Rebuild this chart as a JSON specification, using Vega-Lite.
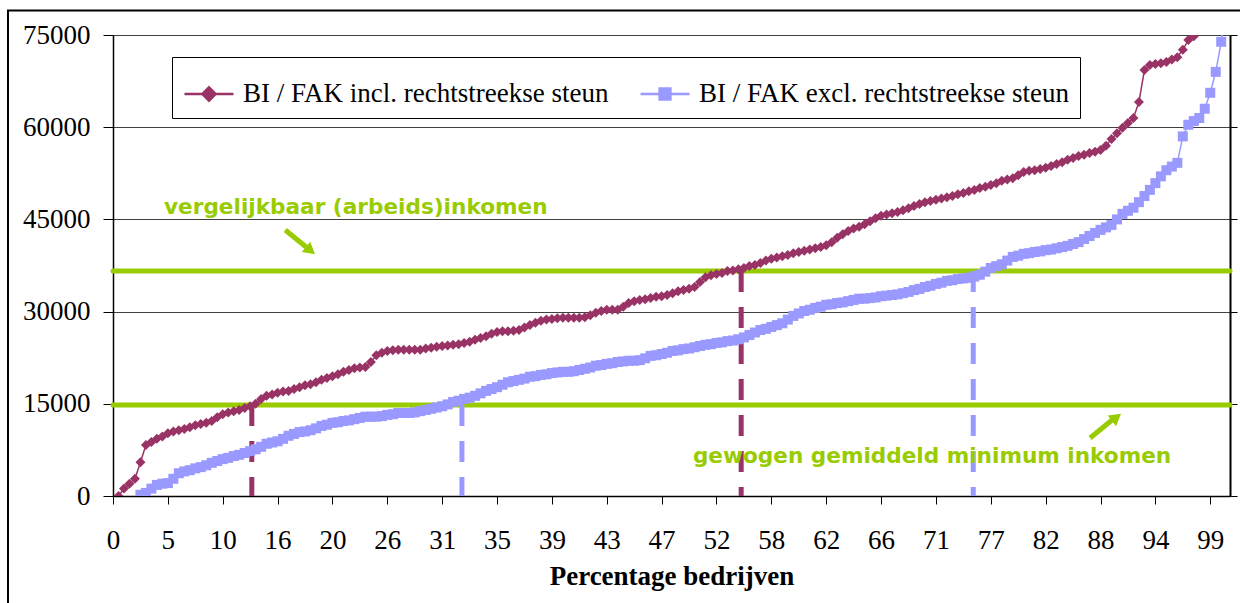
{
  "$schema": "https://vega.github.io/schema/vega-lite/v6.json",
  "width": 1117,
  "height": 461,
  "autosize": {"type": "none"},
  "padding": {"left": 113, "top": 35, "right": 10, "bottom": 107},
  "background": "white",
  "config": {
    "view": {"stroke": null},
    "axis": {"labelFont": "Liberation Serif", "labelFontSize": 27, "labelColor": "black", "tickColor": "black", "domainColor": "black", "titleColor": "black", "titleFont": "Liberation Serif", "labelFlush": false, "labelOverlap": false, "labelBound": false}
  },
  "datasets": {
    "reeksen": [
      {"reeks":"incl","i":1,"v":0},{"reeks":"incl","i":2,"v":1200},{"reeks":"incl","i":4,"v":2800},{"reeks":"incl","i":5,"v":5500},{"reeks":"incl","i":6,"v":8300},{"reeks":"incl","i":8,"v":9300},{"reeks":"incl","i":10,"v":10200},{"reeks":"incl","i":12,"v":10700},{"reeks":"incl","i":14,"v":11200},{"reeks":"incl","i":16,"v":11700},{"reeks":"incl","i":18,"v":12200},{"reeks":"incl","i":20,"v":13300},{"reeks":"incl","i":22,"v":13800},{"reeks":"incl","i":24,"v":14300},{"reeks":"incl","i":26,"v":15000},{"reeks":"incl","i":28,"v":16300},{"reeks":"incl","i":30,"v":16800},{"reeks":"incl","i":32,"v":17100},{"reeks":"incl","i":34,"v":17700},{"reeks":"incl","i":36,"v":18200},{"reeks":"incl","i":38,"v":18900},{"reeks":"incl","i":40,"v":19500},{"reeks":"incl","i":42,"v":20200},{"reeks":"incl","i":44,"v":20800},{"reeks":"incl","i":46,"v":21000},{"reeks":"incl","i":47,"v":21800},{"reeks":"incl","i":48,"v":22900},{"reeks":"incl","i":50,"v":23600},{"reeks":"incl","i":52,"v":23800},{"reeks":"incl","i":54,"v":23800},{"reeks":"incl","i":56,"v":23800},{"reeks":"incl","i":58,"v":24100},{"reeks":"incl","i":60,"v":24400},{"reeks":"incl","i":62,"v":24600},{"reeks":"incl","i":64,"v":24900},{"reeks":"incl","i":66,"v":25400},{"reeks":"incl","i":68,"v":26000},{"reeks":"incl","i":70,"v":26700},{"reeks":"incl","i":72,"v":26800},{"reeks":"incl","i":74,"v":27000},{"reeks":"incl","i":76,"v":27800},{"reeks":"incl","i":78,"v":28500},{"reeks":"incl","i":80,"v":28800},{"reeks":"incl","i":82,"v":29000},{"reeks":"incl","i":84,"v":29000},{"reeks":"incl","i":86,"v":29100},{"reeks":"incl","i":88,"v":29800},{"reeks":"incl","i":90,"v":30300},{"reeks":"incl","i":92,"v":30300},{"reeks":"incl","i":94,"v":31400},{"reeks":"incl","i":96,"v":31900},{"reeks":"incl","i":98,"v":32200},{"reeks":"incl","i":100,"v":32500},{"reeks":"incl","i":102,"v":33000},{"reeks":"incl","i":104,"v":33500},{"reeks":"incl","i":106,"v":34000},{"reeks":"incl","i":108,"v":35600},{"reeks":"incl","i":110,"v":36100},{"reeks":"incl","i":112,"v":36600},{"reeks":"incl","i":114,"v":36900},{"reeks":"incl","i":116,"v":37400},{"reeks":"incl","i":118,"v":37900},{"reeks":"incl","i":120,"v":38600},{"reeks":"incl","i":122,"v":39000},{"reeks":"incl","i":124,"v":39500},{"reeks":"incl","i":126,"v":39900},{"reeks":"incl","i":128,"v":40300},{"reeks":"incl","i":130,"v":40800},{"reeks":"incl","i":132,"v":42000},{"reeks":"incl","i":134,"v":43100},{"reeks":"incl","i":136,"v":43800},{"reeks":"incl","i":138,"v":44700},{"reeks":"incl","i":140,"v":45600},{"reeks":"incl","i":142,"v":46000},{"reeks":"incl","i":144,"v":46500},{"reeks":"incl","i":146,"v":47200},{"reeks":"incl","i":148,"v":47800},{"reeks":"incl","i":150,"v":48200},{"reeks":"incl","i":152,"v":48600},{"reeks":"incl","i":154,"v":49100},{"reeks":"incl","i":156,"v":49600},{"reeks":"incl","i":158,"v":50100},{"reeks":"incl","i":160,"v":50600},{"reeks":"incl","i":162,"v":51300},{"reeks":"incl","i":164,"v":51700},{"reeks":"incl","i":166,"v":52700},{"reeks":"incl","i":168,"v":53000},{"reeks":"incl","i":170,"v":53400},{"reeks":"incl","i":172,"v":54000},{"reeks":"incl","i":174,"v":54700},{"reeks":"incl","i":176,"v":55300},{"reeks":"incl","i":178,"v":55800},{"reeks":"incl","i":180,"v":56300},{"reeks":"incl","i":182,"v":58100},{"reeks":"incl","i":184,"v":59900},{"reeks":"incl","i":186,"v":61500},{"reeks":"incl","i":187,"v":64100},{"reeks":"incl","i":188,"v":69300},{"reeks":"incl","i":189,"v":70100},{"reeks":"incl","i":190,"v":70300},{"reeks":"incl","i":192,"v":70600},{"reeks":"incl","i":194,"v":71400},{"reeks":"incl","i":195,"v":72600},{"reeks":"incl","i":196,"v":74200},{"reeks":"incl","i":197,"v":74800},{"reeks":"incl","i":198,"v":75800},{"reeks":"incl","i":200,"v":79000},{"reeks":"incl","i":202,"v":85000},
      {"reeks":"incl","i":3,"v":2000},{"reeks":"incl","i":7,"v":8800},{"reeks":"incl","i":9,"v":9700},{"reeks":"incl","i":11,"v":10500},{"reeks":"incl","i":13,"v":10900},{"reeks":"incl","i":15,"v":11500},{"reeks":"incl","i":17,"v":11900},{"reeks":"incl","i":19,"v":12800},{"reeks":"incl","i":21,"v":13600},{"reeks":"incl","i":23,"v":14000},{"reeks":"incl","i":25,"v":14600},{"reeks":"incl","i":27,"v":15800},{"reeks":"incl","i":29,"v":16500},{"reeks":"incl","i":31,"v":17000},{"reeks":"incl","i":33,"v":17400},{"reeks":"incl","i":35,"v":18000},{"reeks":"incl","i":37,"v":18500},{"reeks":"incl","i":39,"v":19200},{"reeks":"incl","i":41,"v":19800},{"reeks":"incl","i":43,"v":20500},{"reeks":"incl","i":45,"v":20900},{"reeks":"incl","i":49,"v":23300},{"reeks":"incl","i":51,"v":23700},{"reeks":"incl","i":53,"v":23800},{"reeks":"incl","i":55,"v":23800},{"reeks":"incl","i":57,"v":24000},{"reeks":"incl","i":59,"v":24300},{"reeks":"incl","i":61,"v":24500},{"reeks":"incl","i":63,"v":24700},{"reeks":"incl","i":65,"v":25100},{"reeks":"incl","i":67,"v":25700},{"reeks":"incl","i":69,"v":26400},{"reeks":"incl","i":71,"v":26800},{"reeks":"incl","i":73,"v":26900},{"reeks":"incl","i":75,"v":27400},{"reeks":"incl","i":77,"v":28200},{"reeks":"incl","i":79,"v":28700},{"reeks":"incl","i":81,"v":28900},{"reeks":"incl","i":83,"v":29000},{"reeks":"incl","i":85,"v":29000},{"reeks":"incl","i":87,"v":29400},{"reeks":"incl","i":89,"v":30100},{"reeks":"incl","i":91,"v":30300},{"reeks":"incl","i":93,"v":30800},{"reeks":"incl","i":95,"v":31700},{"reeks":"incl","i":97,"v":32000},{"reeks":"incl","i":99,"v":32400},{"reeks":"incl","i":101,"v":32700},{"reeks":"incl","i":103,"v":33300},{"reeks":"incl","i":105,"v":33700},{"reeks":"incl","i":107,"v":34800},{"reeks":"incl","i":109,"v":35900},{"reeks":"incl","i":111,"v":36300},{"reeks":"incl","i":113,"v":36700},{"reeks":"incl","i":115,"v":37100},{"reeks":"incl","i":117,"v":37600},{"reeks":"incl","i":119,"v":38300},{"reeks":"incl","i":121,"v":38800},{"reeks":"incl","i":123,"v":39200},{"reeks":"incl","i":125,"v":39700},{"reeks":"incl","i":127,"v":40100},{"reeks":"incl","i":129,"v":40500},{"reeks":"incl","i":131,"v":41300},{"reeks":"incl","i":133,"v":42600},{"reeks":"incl","i":135,"v":43500},{"reeks":"incl","i":137,"v":44200},{"reeks":"incl","i":139,"v":45200},{"reeks":"incl","i":141,"v":45800},{"reeks":"incl","i":143,"v":46200},{"reeks":"incl","i":145,"v":46800},{"reeks":"incl","i":147,"v":47500},{"reeks":"incl","i":149,"v":48000},{"reeks":"incl","i":151,"v":48400},{"reeks":"incl","i":153,"v":48800},{"reeks":"incl","i":155,"v":49300},{"reeks":"incl","i":157,"v":49800},{"reeks":"incl","i":159,"v":50300},{"reeks":"incl","i":161,"v":50900},{"reeks":"incl","i":163,"v":51500},{"reeks":"incl","i":165,"v":52200},{"reeks":"incl","i":167,"v":52900},{"reeks":"incl","i":169,"v":53200},{"reeks":"incl","i":171,"v":53700},{"reeks":"incl","i":173,"v":54300},{"reeks":"incl","i":175,"v":55000},{"reeks":"incl","i":177,"v":55500},{"reeks":"incl","i":179,"v":56000},{"reeks":"incl","i":181,"v":57000},{"reeks":"incl","i":183,"v":59000},{"reeks":"incl","i":185,"v":60700},{"reeks":"incl","i":191,"v":70400},{"reeks":"incl","i":193,"v":71000},{"reeks":"incl","i":199,"v":77000},{"reeks":"incl","i":201,"v":82000},
      {"reeks":"excl","i":5,"v":200},{"reeks":"excl","i":6,"v":500},{"reeks":"excl","i":8,"v":1800},{"reeks":"excl","i":10,"v":2100},{"reeks":"excl","i":12,"v":3700},{"reeks":"excl","i":14,"v":4200},{"reeks":"excl","i":16,"v":4700},{"reeks":"excl","i":18,"v":5400},{"reeks":"excl","i":20,"v":6000},{"reeks":"excl","i":22,"v":6500},{"reeks":"excl","i":24,"v":7000},{"reeks":"excl","i":26,"v":7600},{"reeks":"excl","i":28,"v":8500},{"reeks":"excl","i":30,"v":8900},{"reeks":"excl","i":32,"v":9800},{"reeks":"excl","i":34,"v":10400},{"reeks":"excl","i":36,"v":10700},{"reeks":"excl","i":38,"v":11400},{"reeks":"excl","i":40,"v":11900},{"reeks":"excl","i":42,"v":12200},{"reeks":"excl","i":44,"v":12500},{"reeks":"excl","i":46,"v":12900},{"reeks":"excl","i":48,"v":12900},{"reeks":"excl","i":50,"v":13200},{"reeks":"excl","i":52,"v":13500},{"reeks":"excl","i":54,"v":13500},{"reeks":"excl","i":56,"v":13800},{"reeks":"excl","i":58,"v":14200},{"reeks":"excl","i":60,"v":14600},{"reeks":"excl","i":62,"v":15300},{"reeks":"excl","i":64,"v":15800},{"reeks":"excl","i":66,"v":16300},{"reeks":"excl","i":68,"v":17100},{"reeks":"excl","i":70,"v":17700},{"reeks":"excl","i":72,"v":18500},{"reeks":"excl","i":74,"v":18900},{"reeks":"excl","i":76,"v":19400},{"reeks":"excl","i":78,"v":19700},{"reeks":"excl","i":80,"v":20000},{"reeks":"excl","i":82,"v":20200},{"reeks":"excl","i":84,"v":20300},{"reeks":"excl","i":86,"v":20700},{"reeks":"excl","i":88,"v":21200},{"reeks":"excl","i":90,"v":21500},{"reeks":"excl","i":92,"v":21800},{"reeks":"excl","i":94,"v":22000},{"reeks":"excl","i":96,"v":22100},{"reeks":"excl","i":98,"v":22800},{"reeks":"excl","i":100,"v":23100},{"reeks":"excl","i":102,"v":23600},{"reeks":"excl","i":104,"v":23900},{"reeks":"excl","i":106,"v":24200},{"reeks":"excl","i":108,"v":24600},{"reeks":"excl","i":110,"v":24900},{"reeks":"excl","i":112,"v":25200},{"reeks":"excl","i":114,"v":25500},{"reeks":"excl","i":116,"v":26200},{"reeks":"excl","i":118,"v":27000},{"reeks":"excl","i":120,"v":27500},{"reeks":"excl","i":122,"v":28100},{"reeks":"excl","i":124,"v":29300},{"reeks":"excl","i":126,"v":30100},{"reeks":"excl","i":128,"v":30600},{"reeks":"excl","i":130,"v":31100},{"reeks":"excl","i":132,"v":31400},{"reeks":"excl","i":134,"v":31700},{"reeks":"excl","i":136,"v":32100},{"reeks":"excl","i":138,"v":32200},{"reeks":"excl","i":140,"v":32500},{"reeks":"excl","i":142,"v":32700},{"reeks":"excl","i":144,"v":33000},{"reeks":"excl","i":146,"v":33500},{"reeks":"excl","i":148,"v":34000},{"reeks":"excl","i":150,"v":34500},{"reeks":"excl","i":152,"v":35000},{"reeks":"excl","i":154,"v":35300},{"reeks":"excl","i":156,"v":35500},{"reeks":"excl","i":158,"v":36000},{"reeks":"excl","i":160,"v":37100},{"reeks":"excl","i":162,"v":37700},{"reeks":"excl","i":164,"v":38900},{"reeks":"excl","i":166,"v":39400},{"reeks":"excl","i":168,"v":39700},{"reeks":"excl","i":170,"v":40000},{"reeks":"excl","i":172,"v":40300},{"reeks":"excl","i":174,"v":40700},{"reeks":"excl","i":176,"v":41300},{"reeks":"excl","i":178,"v":42300},{"reeks":"excl","i":180,"v":43300},{"reeks":"excl","i":182,"v":44100},{"reeks":"excl","i":184,"v":45900},{"reeks":"excl","i":186,"v":46900},{"reeks":"excl","i":188,"v":48800},{"reeks":"excl","i":190,"v":50900},{"reeks":"excl","i":192,"v":53000},{"reeks":"excl","i":194,"v":54200},{"reeks":"excl","i":196,"v":60400},{"reeks":"excl","i":198,"v":61500},{"reeks":"excl","i":200,"v":65600},{"reeks":"excl","i":202,"v":73900},{"reeks":"excl","i":203.5,"v":84000},
      {"reeks":"excl","i":7,"v":1200},{"reeks":"excl","i":9,"v":2000},{"reeks":"excl","i":11,"v":2800},{"reeks":"excl","i":13,"v":4000},{"reeks":"excl","i":15,"v":4500},{"reeks":"excl","i":17,"v":5000},{"reeks":"excl","i":19,"v":5700},{"reeks":"excl","i":21,"v":6200},{"reeks":"excl","i":23,"v":6700},{"reeks":"excl","i":25,"v":7300},{"reeks":"excl","i":27,"v":8000},{"reeks":"excl","i":29,"v":8700},{"reeks":"excl","i":31,"v":9300},{"reeks":"excl","i":33,"v":10100},{"reeks":"excl","i":35,"v":10500},{"reeks":"excl","i":37,"v":11000},{"reeks":"excl","i":39,"v":11600},{"reeks":"excl","i":41,"v":12000},{"reeks":"excl","i":43,"v":12300},{"reeks":"excl","i":45,"v":12700},{"reeks":"excl","i":47,"v":12900},{"reeks":"excl","i":49,"v":13000},{"reeks":"excl","i":51,"v":13300},{"reeks":"excl","i":53,"v":13500},{"reeks":"excl","i":55,"v":13600},{"reeks":"excl","i":57,"v":14000},{"reeks":"excl","i":59,"v":14400},{"reeks":"excl","i":61,"v":14900},{"reeks":"excl","i":63,"v":15500},{"reeks":"excl","i":65,"v":16000},{"reeks":"excl","i":67,"v":16700},{"reeks":"excl","i":69,"v":17400},{"reeks":"excl","i":71,"v":18100},{"reeks":"excl","i":73,"v":18700},{"reeks":"excl","i":75,"v":19100},{"reeks":"excl","i":77,"v":19500},{"reeks":"excl","i":79,"v":19800},{"reeks":"excl","i":81,"v":20100},{"reeks":"excl","i":83,"v":20200},{"reeks":"excl","i":85,"v":20500},{"reeks":"excl","i":87,"v":20900},{"reeks":"excl","i":89,"v":21300},{"reeks":"excl","i":91,"v":21600},{"reeks":"excl","i":93,"v":21900},{"reeks":"excl","i":95,"v":22000},{"reeks":"excl","i":97,"v":22400},{"reeks":"excl","i":99,"v":22900},{"reeks":"excl","i":101,"v":23300},{"reeks":"excl","i":103,"v":23700},{"reeks":"excl","i":105,"v":24000},{"reeks":"excl","i":107,"v":24400},{"reeks":"excl","i":109,"v":24700},{"reeks":"excl","i":111,"v":25000},{"reeks":"excl","i":113,"v":25300},{"reeks":"excl","i":115,"v":25800},{"reeks":"excl","i":117,"v":26600},{"reeks":"excl","i":119,"v":27200},{"reeks":"excl","i":121,"v":27800},{"reeks":"excl","i":123,"v":28700},{"reeks":"excl","i":125,"v":29700},{"reeks":"excl","i":127,"v":30300},{"reeks":"excl","i":129,"v":30800},{"reeks":"excl","i":131,"v":31200},{"reeks":"excl","i":133,"v":31500},{"reeks":"excl","i":135,"v":31900},{"reeks":"excl","i":137,"v":32100},{"reeks":"excl","i":139,"v":32300},{"reeks":"excl","i":141,"v":32600},{"reeks":"excl","i":143,"v":32800},{"reeks":"excl","i":145,"v":33200},{"reeks":"excl","i":147,"v":33700},{"reeks":"excl","i":149,"v":34200},{"reeks":"excl","i":151,"v":34700},{"reeks":"excl","i":153,"v":35100},{"reeks":"excl","i":155,"v":35400},{"reeks":"excl","i":157,"v":35700},{"reeks":"excl","i":159,"v":36500},{"reeks":"excl","i":161,"v":37400},{"reeks":"excl","i":163,"v":38300},{"reeks":"excl","i":165,"v":39100},{"reeks":"excl","i":167,"v":39500},{"reeks":"excl","i":169,"v":39800},{"reeks":"excl","i":171,"v":40100},{"reeks":"excl","i":173,"v":40500},{"reeks":"excl","i":175,"v":41000},{"reeks":"excl","i":177,"v":41800},{"reeks":"excl","i":179,"v":42800},{"reeks":"excl","i":181,"v":43700},{"reeks":"excl","i":183,"v":45000},{"reeks":"excl","i":185,"v":46400},{"reeks":"excl","i":187,"v":47800},{"reeks":"excl","i":189,"v":49800},{"reeks":"excl","i":191,"v":52000},{"reeks":"excl","i":193,"v":53600},{"reeks":"excl","i":195,"v":58500},{"reeks":"excl","i":197,"v":61000},{"reeks":"excl","i":199,"v":63000},{"reeks":"excl","i":201,"v":69000}
    ]
  },
  "resolve": {"axis": {"x": "independent", "y": "independent"}},
  "layer": [
    {
      "data": {"values": [{}]},
      "mark": {"type": "rect", "fillOpacity": 0, "stroke": "black", "strokeWidth": 2, "clip": false},
      "encoding": {
        "x": {"datum": -19.14, "type": "quantitative", "scale": {"domain": [0, 203.6], "nice": false, "zero": false}, "axis": null},
        "x2": {"datum": 215},
        "y": {"datum": 79000, "type": "quantitative", "scale": {"domain": [0, 75000], "nice": false}, "axis": null},
        "y2": {"datum": -20000}
      }
    },
    {
      "data": {"values": [{"niveau": "vergelijkbaar (arbeids)inkomen", "v": 36600}, {"niveau": "gewogen gemiddeld minimum inkomen", "v": 14800}]},
      "mark": {"type": "rule", "color": "#99CC00", "strokeWidth": 5, "strokeCap": "round"},
      "encoding": {
        "y": {"field": "v", "type": "quantitative", "axis": {"orient": "right", "labels": false, "ticks": true, "tickSize": 7, "grid": false, "domainWidth": 2, "values": [0, 15000, 30000, 45000, 60000, 75000], "title": null}}
      }
    },
    {
      "data": {"values": [{"reeks": "incl", "i": 25.3, "v": 14800}, {"reeks": "incl", "i": 114.5, "v": 36600}]},
      "mark": {"type": "rule", "strokeWidth": 5, "strokeDash": [21, 15], "color": "#993366"},
      "encoding": {
        "x": {"field": "i", "type": "quantitative", "axis": null},
        "y": {"field": "v", "type": "quantitative", "axis": null},
        "y2": {"datum": 0}
      }
    },
    {
      "data": {"values": [{"reeks": "excl", "i": 63.6, "v": 14800}, {"reeks": "excl", "i": 156.8, "v": 36600}]},
      "mark": {"type": "rule", "strokeWidth": 5, "strokeDash": [21, 15], "color": "#9999FF"},
      "encoding": {
        "x": {"field": "i", "type": "quantitative", "axis": null},
        "y": {"field": "v", "type": "quantitative", "axis": null},
        "y2": {"datum": 0}
      }
    },
    {
      "data": {"name": "reeksen"},
      "transform": [{"filter": "datum.reeks === 'incl'"}],
      "mark": {"type": "line", "strokeWidth": 1.5, "clip": true, "color": "#993366"},
      "encoding": {
        "x": {"field": "i", "type": "quantitative",
          "axis": {"values": [0,10,20,30,40,50,60,70,80,90,100,110,120,130,140,150,160,170,180,190,200],
            "labelExpr": "['0','5','10','16','20','26','31','35','39','43','47','52','58','62','66','71','77','82','88','94','99'][round(datum.value/10)]",
            "tickSize": 8, "labelPadding": 23, "grid": false, "domainWidth": 1.5,
            "title": "Percentage bedrijven", "titleFontSize": 27, "titleFontWeight": "bold", "titlePadding": 10}},
        "y": {"field": "v", "type": "quantitative",
          "axis": {"values": [0, 15000, 30000, 45000, 60000, 75000], "format": "d", "tickSize": 10, "labelPadding": 13, "grid": true, "gridColor": "#404040", "gridWidth": 1, "domainWidth": 1.5, "title": null}}
      }
    },
    {
      "data": {"name": "reeksen"},
      "transform": [{"filter": "datum.reeks === 'excl'"}],
      "mark": {"type": "line", "strokeWidth": 1.5, "clip": true, "color": "#9999FF"},
      "encoding": {
        "x": {"field": "i", "type": "quantitative", "axis": null},
        "y": {"field": "v", "type": "quantitative", "axis": null}
      }
    },
    {
      "data": {"name": "reeksen"},
      "transform": [{"filter": "datum.reeks === 'excl'"}],
      "mark": {"type": "point", "shape": "square", "filled": true, "opacity": 1, "size": 100, "clip": true, "color": "#9999FF"},
      "encoding": {
        "x": {"field": "i", "type": "quantitative", "axis": null},
        "y": {"field": "v", "type": "quantitative", "axis": null}
      }
    },
    {
      "data": {"name": "reeksen"},
      "transform": [{"filter": "datum.reeks === 'incl'"}],
      "mark": {"type": "point", "shape": "diamond", "filled": true, "opacity": 1, "size": 100, "clip": true, "color": "#993366"},
      "encoding": {
        "x": {"field": "i", "type": "quantitative", "axis": null},
        "y": {"field": "v", "type": "quantitative", "axis": null}
      }
    },
    {
      "data": {"name": "reeksen"},
      "mark": {"type": "point", "filled": false, "strokeWidth": 2.5, "opacity": 1, "clip": true},
      "encoding": {
        "x": {"field": "i", "type": "quantitative", "axis": null},
        "y": {"datum": -60000, "type": "quantitative", "axis": null},
        "color": {"field": "reeks", "type": "nominal",
          "scale": {"domain": ["incl", "excl"], "range": ["#993366", "#9999FF"]},
          "legend": {
            "orient": "none", "legendX": 59, "legendY": 22, "direction": "horizontal", "columns": 2,
            "title": null, "labelFont": "Liberation Serif", "labelFontSize": 27, "labelColor": "black", "labelLimit": 1000,
            "labelOffset": 8, "columnPadding": 26, "padding": 11, "strokeColor": "black", "fillColor": "white",
            "symbolSize": 2401, "symbolStrokeWidth": 2.5, "symbolOpacity": 1,
            "labelExpr": "datum.value === 'incl' ? 'BI / FAK incl. rechtstreekse steun' : 'BI / FAK excl. rechtstreekse steun'"
          }
        },
        "shape": {"field": "reeks", "type": "nominal",
          "scale": {"domain": ["incl", "excl"], "range": ["M-1,0H1M0,-0.27L0.27,0L0,0.27L-0.27,0ZM0,-0.18L0.18,0L0,0.18L-0.18,0ZM0,-0.09L0.09,0L0,0.09L-0.09,0Z", "M-1,0H1M-0.22,-0.22H0.22V0.22H-0.22ZM-0.14,-0.14H0.14V0.14H-0.14ZM-0.06,-0.06H0.06V0.06H-0.06Z"]},
          "legend": {
            "orient": "none", "legendX": 59, "legendY": 22, "direction": "horizontal", "columns": 2,
            "title": null, "labelFont": "Liberation Serif", "labelFontSize": 27, "labelColor": "black", "labelLimit": 1000,
            "labelOffset": 8, "columnPadding": 26, "padding": 11, "strokeColor": "black", "fillColor": "white",
            "symbolSize": 2401, "symbolStrokeWidth": 2.5, "symbolOpacity": 1,
            "labelExpr": "datum.value === 'incl' ? 'BI / FAK incl. rechtstreekse steun' : 'BI / FAK excl. rechtstreekse steun'"
          }
        }
      }
    },
    {
      "data": {"values": [{}]},
      "mark": {"type": "text", "text": "vergelijkbaar (arbeids)inkomen", "align": "left", "baseline": "alphabetic", "font": "DejaVu Sans", "fontWeight": "bold", "fontSize": 21.6, "color": "#99CC00"},
      "encoding": {"x": {"datum": 9.3, "type": "quantitative", "axis": null}, "y": {"datum": 45880, "type": "quantitative", "axis": null}}
    },
    {
      "data": {"values": [{}]},
      "mark": {"type": "text", "text": "gewogen gemiddeld minimum inkomen", "align": "left", "baseline": "alphabetic", "font": "DejaVu Sans", "fontWeight": "bold", "fontSize": 21.6, "color": "#99CC00"},
      "encoding": {"x": {"datum": 105.7, "type": "quantitative", "axis": null}, "y": {"datum": 5370, "type": "quantitative", "axis": null}}
    },
    {
      "data": {"values": [{}]},
      "mark": {"type": "rule", "color": "#99CC00", "strokeWidth": 5},
      "encoding": {"x": {"datum": 31.4, "type": "quantitative", "axis": null}, "y": {"datum": 43280, "type": "quantitative", "axis": null}, "x2": {"datum": 35.2}, "y2": {"datum": 40510}}
    },
    {
      "data": {"values": [{}]},
      "mark": {"type": "point", "shape": "triangle-right", "filled": true, "opacity": 1, "size": 180, "angle": 39, "color": "#99CC00"},
      "encoding": {"x": {"datum": 36.0, "type": "quantitative", "axis": null}, "y": {"datum": 39930, "type": "quantitative", "axis": null}}
    },
    {
      "data": {"values": [{}]},
      "mark": {"type": "rule", "color": "#99CC00", "strokeWidth": 5},
      "encoding": {"x": {"datum": 178.1, "type": "quantitative", "axis": null}, "y": {"datum": 9440, "type": "quantitative", "axis": null}, "x2": {"datum": 182.1}, "y2": {"datum": 12370}}
    },
    {
      "data": {"values": [{}]},
      "mark": {"type": "point", "shape": "triangle-right", "filled": true, "opacity": 1, "size": 180, "angle": 322, "color": "#99CC00"},
      "encoding": {"x": {"datum": 182.9, "type": "quantitative", "axis": null}, "y": {"datum": 12800, "type": "quantitative", "axis": null}}
    }
  ]
}
